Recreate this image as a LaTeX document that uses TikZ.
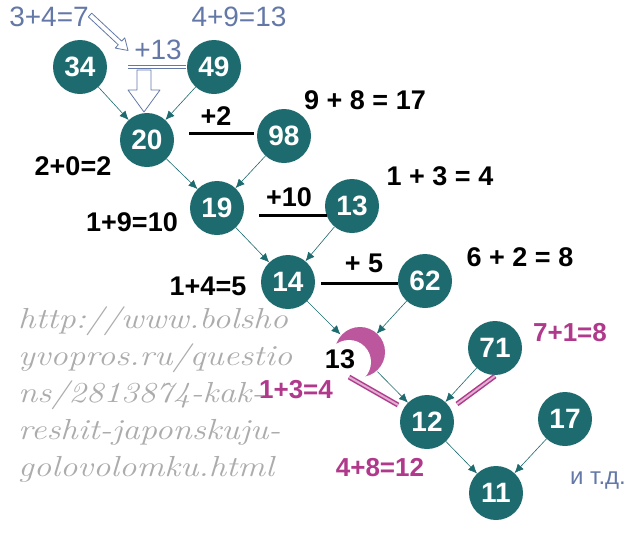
\documentclass[tikz,border=0pt]{standalone}
\usepackage{fontspec}
\setsansfont{Liberation Sans}
\usetikzlibrary{arrows.meta,positioning}
\definecolor{petrol}{HTML}{1D6B6F}
\definecolor{blaagraa}{HTML}{6478A8}
\definecolor{lilla}{HTML}{B0398C}
\tikzset{
    kugle/.style={
           circle,
           fill=petrol,
           text=white,
           minimum size=54pt,
           inner sep=0pt,
           font=\sffamily\bfseries\fontsize{28}{28}\selectfont},
    pil/.style={
           -{Latex[length=9pt,width=8pt]},
           draw=petrol,
           semithick},
    sort/.style={font=\sffamily\bfseries\fontsize{27}{27}\selectfont},
    blaa/.style={text=blaagraa, font=\sffamily\fontsize{28}{28}\selectfont},
    rosa/.style={text=lilla, font=\sffamily\bfseries\fontsize{26}{26}\selectfont},
    streg/.style={line width=3pt},
    hulpil/.style={
           draw=blaagraa, thick,
           fill=white,
           line join=round},
    dobbelt/.style={
           draw=lilla, line width=1.5pt,
           double=lilla!40,
           double distance=2pt},
    vandmaerke/.style={
           anchor=base west,
           text=gray!65,
           xscale=1.2,
           font=\rmfamily\itshape\fontsize{29}{37}\selectfont}
}

\begin{document}
\begin{tikzpicture}[x=1pt, y=-1pt]
        \useasboundingbox[fill=white] (0,0) rectangle (642,544);

        % talkugler
        \node[kugle] (n34) at (80,67)   {34};
        \node[kugle] (n49) at (214,67)  {49};
        \node[kugle] (n20) at (147,140) {20};
        \node[kugle] (n98) at (284,136) {98};
        \node[kugle] (n19) at (217,208) {19};
        \node[kugle] (n13) at (352,206) {13};
        \node[kugle] (n14) at (288,282) {14};
        \node[kugle] (n62) at (425,281) {62};
        \node[kugle] (n71) at (495,348) {71};
        \node[kugle] (n12) at (427,422) {12};
        \node[kugle] (n17) at (565,419) {17};
        \node[kugle] (n11) at (496,493) {11};

        % den halve kugle
        \fill[lilla!85] (360,352) circle (25pt);
        \fill[white] (349,362) circle (22pt);
        \node[circle, minimum size=52pt, inner sep=0pt] (n13b) at (359,353) {};
        \node[sort] (t13) at (340,359) {13};

        \draw[pil] (n34) -- (n20);
        \draw[pil] (n49) -- (n20);
        \draw[pil] (n20) -- (n19);
        \draw[pil] (n98) -- (n19);
        \draw[pil] (n19) -- (n14);
        \draw[pil] (n13) -- (n14);
        \draw[pil] (n14) -- (n13b);
        \draw[pil] (n62) -- (n13b);
        \draw[pil] (n13b) -- (n12);
        \draw[pil] (n71) -- (n12);
        \draw[pil] (n12) -- (n11);
        \draw[pil] (n17) -- (n11);

        % blaa regnestykker
        \node[blaa] (s1) at (49,17)  {3+4=7};
        \node[blaa] (s2) at (239,17) {4+9=13};
        \node[blaa] (p13) at (158,50) {+13};
        \draw[hulpil, shift={(90,15)}, rotate=-43]
            (0,-2.5) -- (41,-2.5) -- (41,-7) -- (52,0) -- (41,7) -- (41,2.5) -- (0,2.5) -- cycle;
        \draw[hulpil, shift={(144,70)}, rotate=-90]
            (0,-7) -- (20,-7) -- (20,-16) -- (42,0) -- (20,16) -- (20,7) -- (0,7) -- cycle;
        \coordinate (b1) at (128,67);
        \coordinate (b2) at (186,67);
        \draw[blaagraa, thick, double=white, double distance=2.5pt] (b1) -- (b2);

        % sorte regnestykker
        \coordinate (a1) at (189,133);
        \coordinate (a2) at (254,133);
        \draw[streg] (a1) -- (a2);
        \node[sort] (p2) at (216,116) {+2};
        \node[sort] (s3) at (365,100) {9 + 8 = 17};
        \node[sort] (s4) at (73,166)  {2+0=2};

        \coordinate (c1) at (259,215);
        \coordinate (c2) at (327,215);
        \draw[streg] (c1) -- (c2);
        \node[sort] (p10) at (289,197) {+10};
        \node[sort] (s5) at (440,176)  {1 + 3 = 4};
        \node[sort] (s6) at (132,222)  {1+9=10};

        \coordinate (d1) at (321,283);
        \coordinate (d2) at (398,283);
        \draw[streg] (d1) -- (d2);
        \node[sort] (p5) at (364,263) {+ 5};
        \node[sort] (s7) at (520,257) {6 + 2 = 8};
        \node[sort] (s8) at (208,286) {1+4=5};

        % lilla regnestykker
        \coordinate (m1) at (349,377);
        \coordinate (m2) at (398,405);
        \coordinate (m3) at (495,376);
        \coordinate (m4) at (457,404);
        \draw[dobbelt] (m1) -- (m2);
        \draw[dobbelt] (m3) -- (m4);
        \node[rosa] (s9)  at (296,390) {1+3=4};
        \node[rosa] (s10) at (570,333) {7+1=8};
        \node[rosa] (s11) at (380,468) {4+8=12};
        \node[text=blaagraa, font=\sffamily\fontsize{24}{24}\selectfont] (itd) at (598,481) {и т.д.};

        % vandmaerke
        \node[vandmaerke] (w1) at (14,328) {http://www.bolsho};
        \node[vandmaerke] (w2) at (14,365) {yvopros.ru/questio};
        \node[vandmaerke] (w3) at (14,402) {ns/2813874-kak-};
        \node[vandmaerke] (w4) at (14,439) {reshit-japonskuju-};
        \node[vandmaerke] (w5) at (14,476) {golovolomku.html};
\end{tikzpicture}
\end{document}
